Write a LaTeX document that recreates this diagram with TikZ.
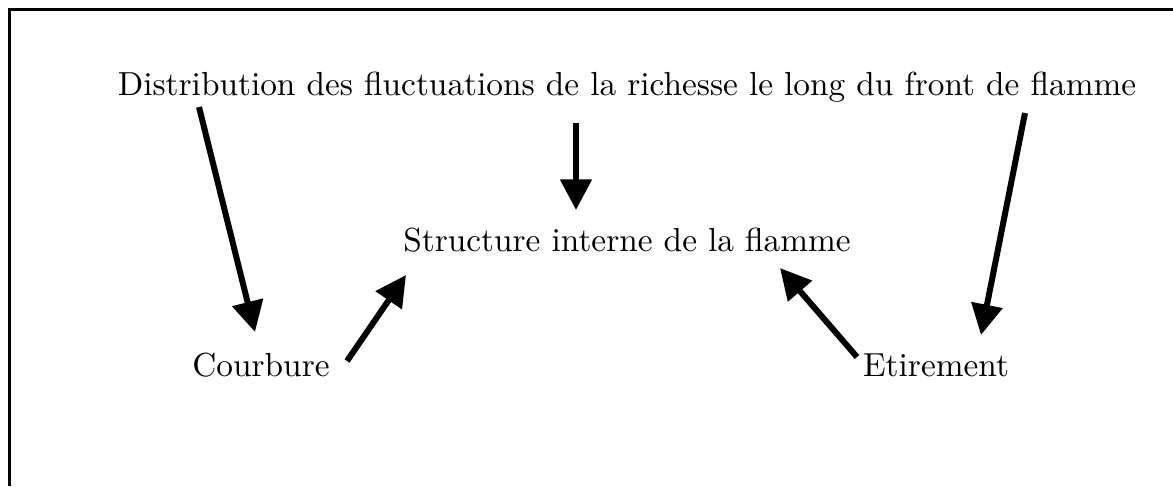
\documentclass[tikz,border=0pt]{standalone}
\usetikzlibrary{arrows.meta}
\begin{document}
\begin{tikzpicture}[x=0.3pt,y=-0.3pt,
  lbl/.style={font=\fontsize{10}{12}\selectfont, inner sep=0pt, anchor=base},
  arr/.style={line width=1.8pt, -{Triangle[length=9.2pt,width=9.2pt]}},
  frameline/.style={line width=0.95pt, line join=miter}]
\useasboundingbox (0,0) rectangle (1173,486);
\draw[frameline] (9.5,486) -- (9.5,9.5) -- (1173,9.5);
\node[lbl] (dist) at (627,95) {Distribution des fluctuations de la richesse le long du front de flamme};
\node[lbl] (struct) at (627,251) {Structure interne de la flamme};
\node[lbl] (courb) at (261,376) {Courbure};
\node[lbl] (etir) at (936,376) {Etirement};
\coordinate (l1) at (199,107);  \coordinate (l2) at (255,332);
\coordinate (m1) at (576,123);  \coordinate (m2) at (576,210);
\coordinate (r1) at (1025,113); \coordinate (r2) at (981,335);
\coordinate (c1) at (347,361);  \coordinate (c2) at (406,275);
\coordinate (e1) at (857,357);  \coordinate (e2) at (780,268);
\draw[arr] (l1) -- (l2);
\draw[arr] (m1) -- (m2);
\draw[arr] (r1) -- (r2);
\draw[arr] (c1) -- (c2);
\draw[arr] (e1) -- (e2);
\end{tikzpicture}
\end{document}
